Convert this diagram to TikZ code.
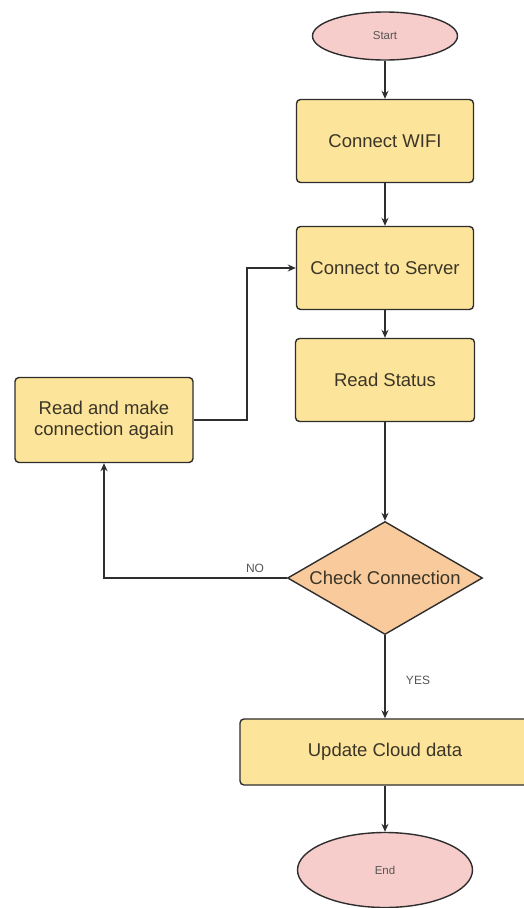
\documentclass[tikz,border=0pt]{standalone}
\usepackage{fontspec}
\setmainfont{Liberation Sans}
\usetikzlibrary{shapes.geometric,arrows.meta}
\definecolor{boxfill}{HTML}{FDE49B}
\definecolor{decfill}{HTML}{F9CA9C}
\definecolor{ovalfill}{HTML}{F7CDCB}
\definecolor{edge}{HTML}{2E2E2E}
\definecolor{txt}{HTML}{3A3526}
\definecolor{smalltxt}{HTML}{555555}
\tikzset{
  procbox/.style={draw=edge, line width=1.4pt, fill=boxfill, rounded corners=4pt,
    inner sep=0pt, align=center, text=txt, font=\fontsize{18.5}{21}\selectfont},
  oval/.style={ellipse, draw=edge, line width=1.4pt, fill=ovalfill, inner sep=0pt,
    text=smalltxt, font=\fontsize{11.5}{13}\selectfont},
  decision/.style={diamond, draw=edge, line width=1.4pt, fill=decfill, inner sep=0pt},
  arr/.style={draw=edge, line width=1.3pt, -{Stealth[length=8pt,width=7pt]}},
  plainline/.style={draw=edge, line width=1.3pt},
  lbl/.style={text=smalltxt, font=\fontsize{12}{14}\selectfont, inner sep=0pt}
}
\begin{document}
\begin{tikzpicture}[x=1pt,y=-1pt]
\useasboundingbox (0,0) rectangle (524,908);
\fill[white] (0,0) rectangle (524,908);
\node[oval, minimum width=145pt, minimum height=48pt] (start) at (385,36) {Start};
\node[procbox, minimum width=177pt, minimum height=83pt] (wifi) at (385,141) {Connect WIFI};
\node[procbox, minimum width=177pt, minimum height=83pt] (server) at (385,268) {Connect to Server};
\node[procbox, minimum width=179pt, minimum height=83pt] (status) at (385,380) {Read Status};
\node[procbox, minimum width=178pt, minimum height=85pt] (again) at (104,420) {Read and make\\connection again};
\node[decision, minimum width=195pt, minimum height=113pt] (chk) at (385,578) {};
\node[text=txt, font=\fontsize{18.5}{21}\selectfont, inner sep=0pt] (chktext) at (385,578) {Check Connection};
\node[procbox, minimum width=290pt, minimum height=66pt] (upd) at (385,752) {Update Cloud data};
\node[oval, minimum width=175pt, minimum height=75pt] (end) at (385,870) {End};
\coordinate (b1) at (247,420);
\coordinate (b2) at (104,578);
\draw[arr] (start) -- (wifi);
\draw[arr] (wifi) -- (server);
\draw[arr] (server) -- (status);
\draw[arr] (status) -- (chk.north);
\draw[arr] (chk.west) -- (b2) -- (again.south);
\draw[arr] (again.east) -- (b1) |- (server.west);
\draw[arr] (chk.south) -- (upd.north);
\draw[arr] (upd) -- (end);
\node[lbl] (no) at (255,568) {NO};
\node[lbl] (yes) at (418,680) {YES};
\end{tikzpicture}
\end{document}
